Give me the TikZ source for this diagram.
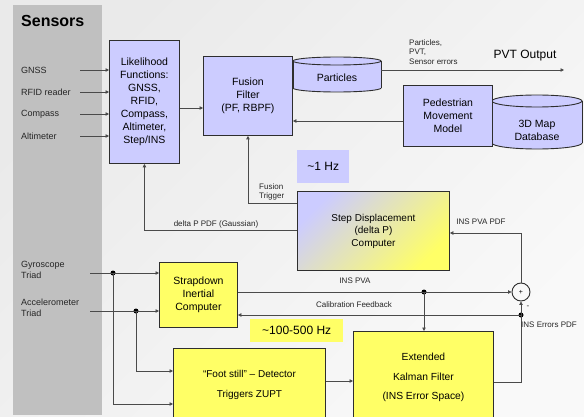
\documentclass[tikz,border=0pt]{standalone}
\usepackage{fontspec}
\setmainfont{Liberation Sans}
\usetikzlibrary{arrows.meta,calc}
\definecolor{lav}{HTML}{CCCCFF}
\definecolor{yel}{HTML}{FFFF66}
\definecolor{band}{HTML}{C0C0C0}
\definecolor{ln}{HTML}{4A4A4A}
\definecolor{bd}{HTML}{2E2E2E}
\definecolor{bgA}{HTML}{EAEAEA}
\definecolor{bgB}{HTML}{F9F9F9}
\begin{document}
\begin{tikzpicture}[x=1pt,y=-1pt,
  box/.style={draw=bd, line width=0.9pt, inner sep=0pt, align=center, anchor=north west,
    font=\fontsize{10.5}{12.9}\selectfont},
  conn/.style={draw=ln, line width=0.8pt, -{Triangle[length=3.5pt,width=3.5pt]}},
  lbl/.style={font=\fontsize{8}{9.5}\selectfont, inner sep=0pt, text=black!85},
  sens/.style={font=\fontsize{9}{11}\selectfont, anchor=west, inner sep=0pt, align=left, text=black!85},
  dot/.style={circle, fill=black, inner sep=0pt, minimum size=5pt},
  hz/.style={anchor=north west, inner sep=0pt, font=\fontsize{12}{14}\selectfont}]
\useasboundingbox (0,0) rectangle (584,417);
\clip (0,0) rectangle (584,417);
\shade[top color=bgA, bottom color=bgB, shading angle=45] (0,0) rectangle (584,417);
\fill[band] (13,5) rectangle (102,415);

% sensors
\node[font=\bfseries\fontsize{16}{19}\selectfont, anchor=west, inner sep=0pt] (sensors) at (21,21) {Sensors};
\node[sens] (gnss) at (21,70) {GNSS};
\node[sens] (rfid) at (21,92) {RFID reader};
\node[sens] (comp) at (21,114) {Compass};
\node[sens] (alti) at (21,136) {Altimeter};
\node[sens] (gyro) at (21,270) {Gyroscope\\Triad};
\node[sens] (acc) at (21,308) {Accelerometer\\Triad};

% main boxes
\node[box, fill=lav, minimum width=70pt, minimum height=123pt] (lik) at (109,40)
  {Likelihood\\Functions:\\GNSS,\\RFID,\\Compass,\\Altimeter,\\Step/INS};
\node[box, fill=lav, minimum width=89pt, minimum height=79pt] (fus) at (203,56)
  {Fusion\\Filter\\(PF, RBPF)};

% particles cylinder
\draw[draw=bd, line width=0.9pt, fill=lav] (337,88) ellipse [x radius=44, y radius=4];
\fill[lav] (293,61) rectangle (381,88);
\draw[bd, line width=0.9pt] (293,61) -- (293,88) (381,61) -- (381,88);
\draw[draw=bd, line width=0.9pt, fill=lav] (337,61) ellipse [x radius=44, y radius=4];
\node[font=\fontsize{10.5}{12.9}\selectfont, inner sep=0pt] (part) at (337,78) {Particles};
\coordinate (partR) at (381,70);

% 3D map cylinder
\draw[draw=bd, line width=0.9pt, fill=lav] (537,143) ellipse [x radius=45, y radius=6];
\fill[lav] (492,101) rectangle (582,143);
\draw[bd, line width=0.9pt] (492,101) -- (492,143) (582,101) -- (582,143);
\draw[draw=bd, line width=0.9pt, fill=lav] (537,101) ellipse [x radius=45, y radius=6];
\node[font=\fontsize{10.5}{12.9}\selectfont, inner sep=0pt, align=center] (map) at (537,130) {3D Map\\Database};

\node[box, fill=lav, minimum width=89pt, minimum height=61pt] (ped) at (403,85)
  {Pedestrian\\Movement\\Model};

\node[hz, fill=lav, minimum width=52pt, minimum height=33pt] (hz1) at (297,150) {\textasciitilde1 Hz};

\node[box, top color=lav, bottom color=yel, shading angle=45, minimum width=152pt, minimum height=79pt,
  font=\fontsize{10}{12.5}\selectfont] (step) at (297,191) {Step Displacement\\(delta P)\\Computer};

\node[box, fill=yel, minimum width=78pt, minimum height=65pt] (sdc) at (159,262)
  {Strapdown\\Inertial\\Computer};

\node[hz, fill=yel, minimum width=93pt, minimum height=23pt] (hz2) at (250,319) {\textasciitilde100-500 Hz};

\node[box, fill=yel, minimum width=152pt, minimum height=72pt, font=\fontsize{10}{20}\selectfont] (foot) at (173,348)
  {“Foot still” – Detector\\Triggers ZUPT};
\node[box, fill=yel, minimum width=140pt, minimum height=92pt, font=\fontsize{10.3}{19.8}\selectfont] (ekf) at (353,331)
  {Extended\\Kalman Filter\\(INS Error Space)};

\node[circle, draw=bd, line width=0.9pt, minimum size=18pt, inner sep=0pt] (sum) at (521,292)
  {\fontsize{7}{8}\selectfont +};
\node[lbl] (minus) at (528,307) {-};

% dots
\node[dot] (d1) at (113,273) {};
\node[dot] (d2) at (136,311) {};
\node[dot] (d3) at (424,292) {};
\node[dot] (d4) at (521,315) {};

% sensor inputs
\coordinate (g0) at (80,70);
\coordinate (r0) at (80,92);
\coordinate (c0) at (80,114);
\coordinate (a0) at (80,136);
\draw[conn] (g0) -- (g0 -| lik.west);
\draw[conn] (r0) -- (r0 -| lik.west);
\draw[conn] (c0) -- (c0 -| lik.west);
\draw[conn] (a0) -- (a0 -| lik.west);

\draw[conn] (lik.east |- 0,108) -- (fus.west |- 0,108);
\draw[conn] (ped.west |- 0,121) -- (fus.east |- 0,121);
\coordinate (pvt) at (564,70);
\draw[conn] (partR) -- (pvt);

\draw[conn] (step.west |- 0,203) -| (fus.south);
\draw[conn] (step.west |- 0,230) -| (lik.south);
\draw[conn] (sum.north) |- (step.east |- 0,233);

\coordinate (gy) at (90,273);
\coordinate (ac) at (90,311);
\draw[conn] (gy) -- (gy -| sdc.west);
\draw[conn] (ac) -- (ac -| sdc.west);
\draw[conn] (d1.center) |- (foot.west |- 0,404);
\draw[conn] (d2.center) |- (foot.west |- 0,371);

\draw[conn] (sdc.east |- 0,292) -- (sum.west);
\draw[conn] (d3.center) -- (d3.center |- ekf.north);
\draw[conn] (d4.center) -- (d4.center -| sdc.east);
\draw[conn] (ekf.east |- 0,382) -| (sum.south);
\draw[conn] (foot.east |- 0,381) -- (ekf.west |- 0,381);

% labels
\node[lbl, align=left, anchor=west] (plab) at (409,52) {Particles,\\PVT,\\Sensor errors};
\node[font=\fontsize{12}{14}\selectfont, inner sep=0pt] (pvtout) at (525,56) {PVT Output};
\node[lbl, align=left, anchor=west] (ftl) at (259,192) {Fusion\\Trigger};
\node[lbl] (dpl) at (216,224) {delta P PDF (Gaussian)};
\node[lbl] (ippl) at (481,222) {INS PVA PDF};
\node[lbl] (ipl) at (355,281) {INS PVA};
\node[lbl] (cfl) at (354,305) {Calibration Feedback};
\node[lbl, anchor=west] (iel) at (521,325) {INS Errors PDF};
\end{tikzpicture}
\end{document}
